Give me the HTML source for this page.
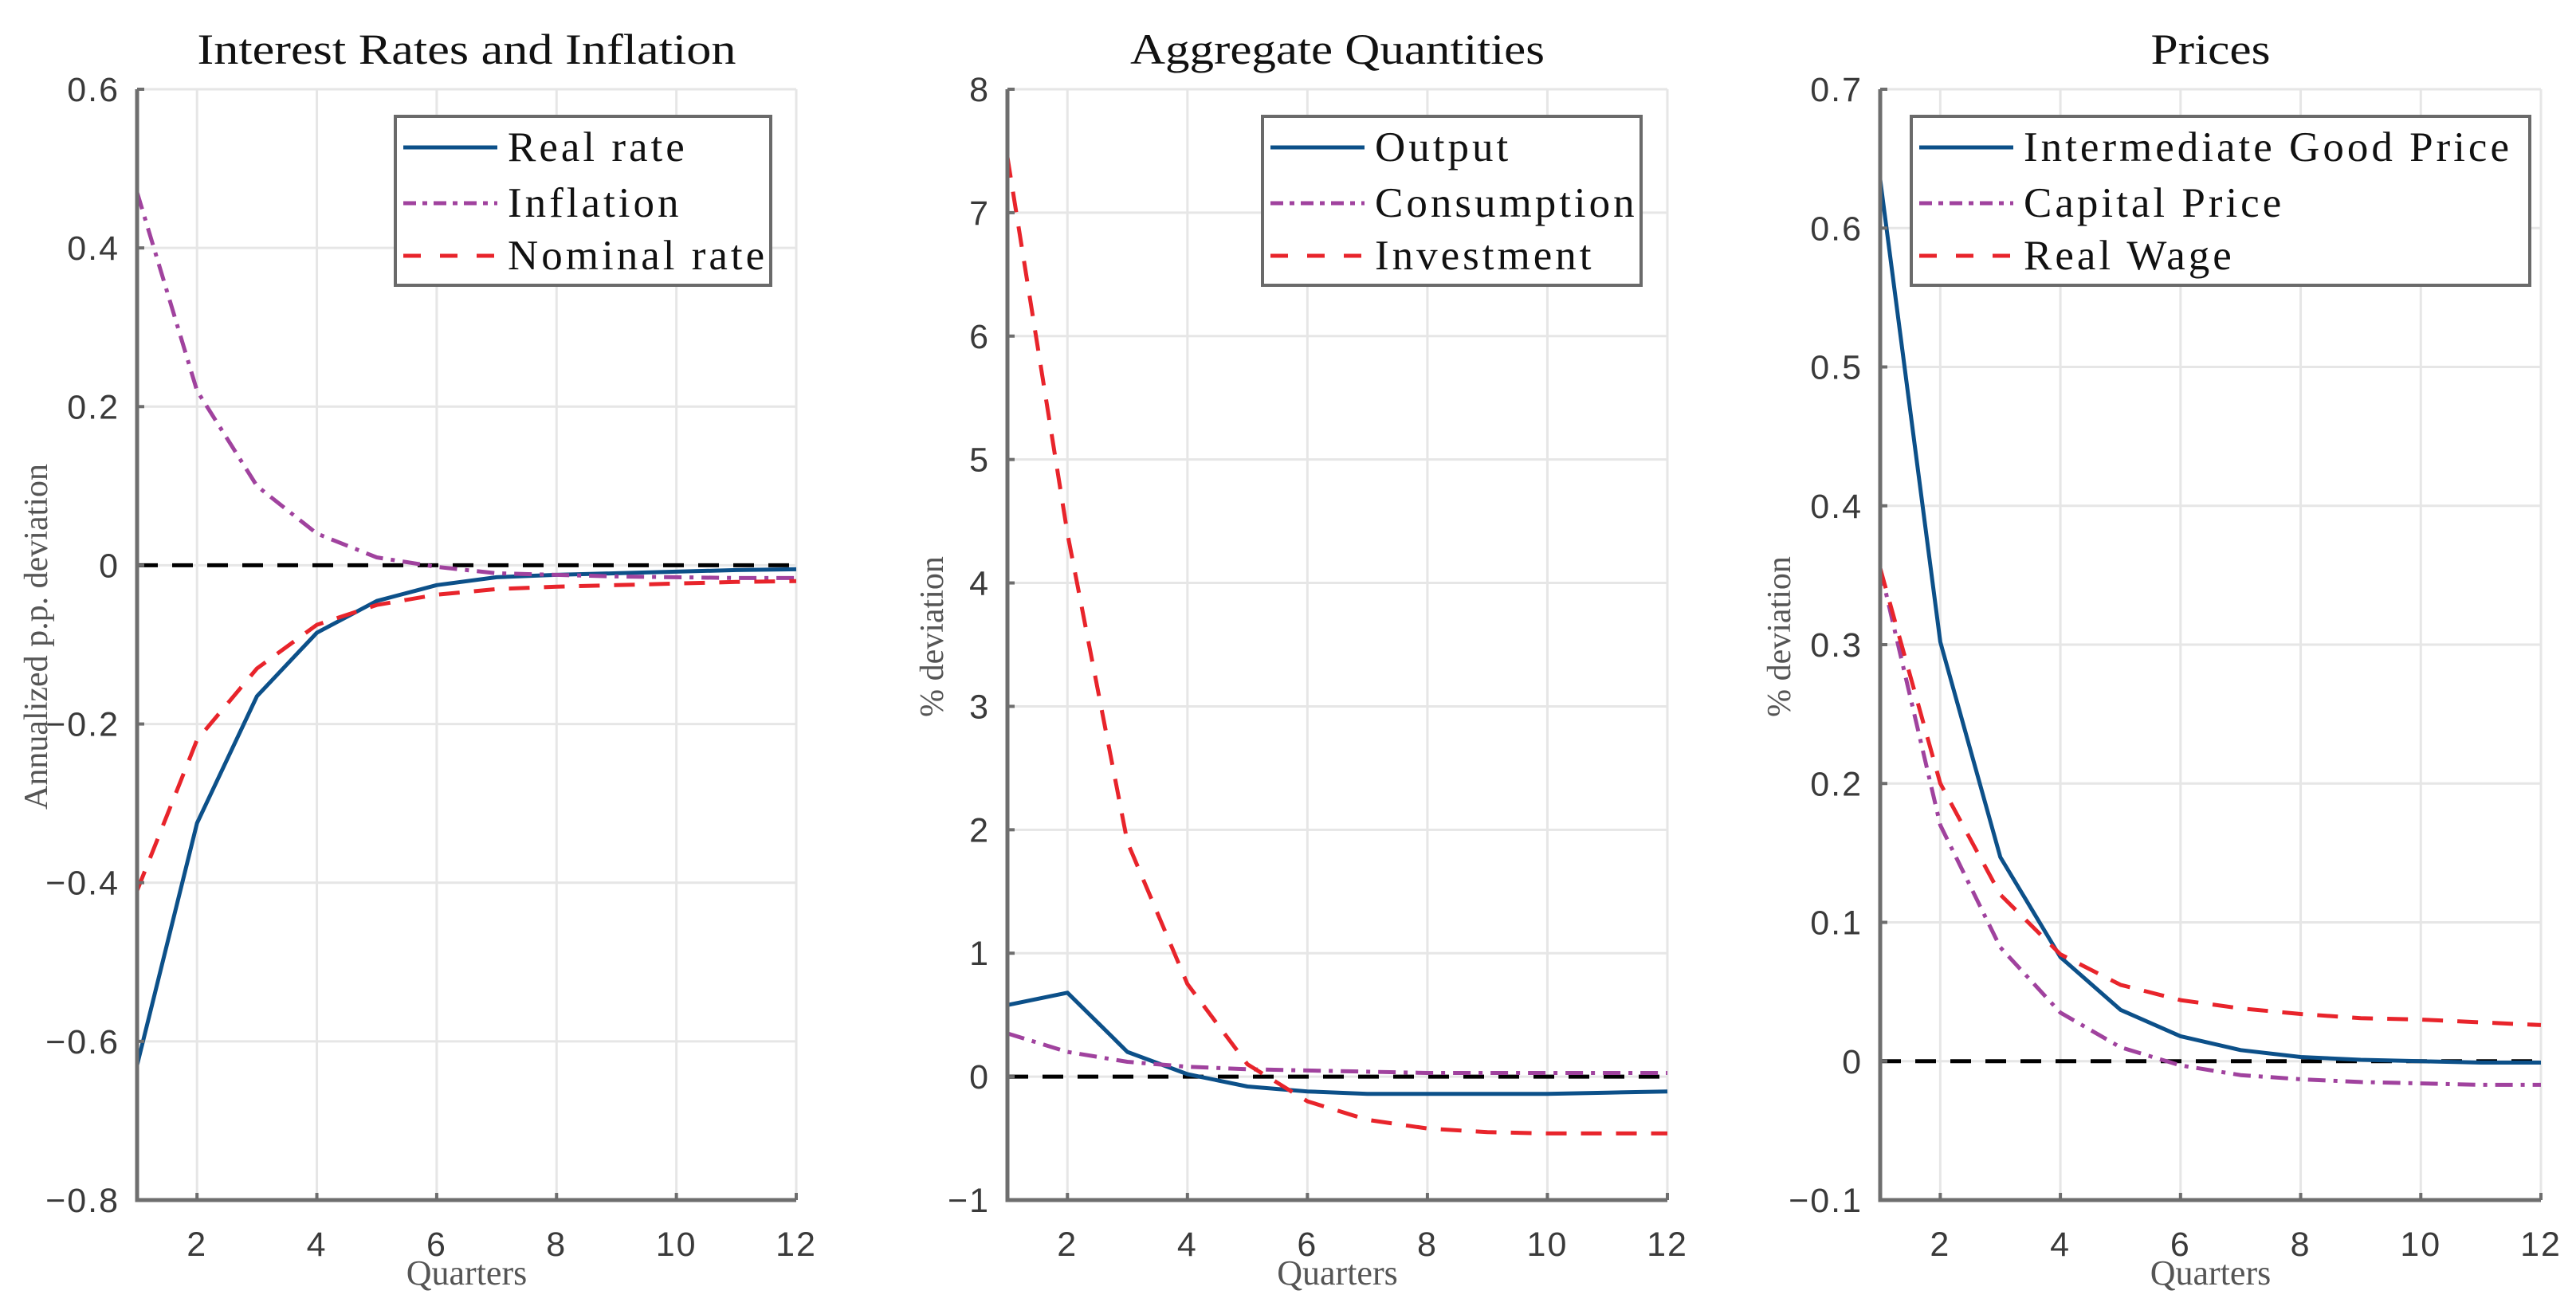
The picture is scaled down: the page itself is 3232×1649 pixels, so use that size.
<!DOCTYPE html>
<html><head><meta charset="utf-8"><style>
html,body{margin:0;padding:0;background:#fff;}
svg{display:block;}
</style></head><body>
<svg id="chart" width="3232" height="1649" viewBox="0 0 3232 1649" xmlns="http://www.w3.org/2000/svg"></svg>
<script>
const quarters = [1,2,3,4,5,6,7,8,9,10,11,12];
const xTicks = [2,4,6,8,10,12];

const realRate = [-0.63,-0.325,-0.165,-0.085,-0.045,-0.025,-0.015,-0.012,-0.01,-0.008,-0.006,-0.005];
const inflation = [0.47,0.22,0.1,0.04,0.01,-0.002,-0.01,-0.012,-0.014,-0.015,-0.016,-0.016];
const nominalRate = [-0.41,-0.22,-0.13,-0.075,-0.05,-0.037,-0.03,-0.027,-0.025,-0.023,-0.021,-0.02];
const p1Ticks = [-0.8,-0.6,-0.4,-0.2,0,0.2,0.4,0.6];
const p1TickLabels = ["\u22120.8","\u22120.6","\u22120.4","\u22120.2","0","0.2","0.4","0.6"];

const output = [0.58,0.68,0.2,0.02,-0.08,-0.12,-0.14,-0.14,-0.14,-0.14,-0.13,-0.12];
const consumption = [0.35,0.2,0.12,0.08,0.06,0.05,0.04,0.03,0.03,0.03,0.03,0.03];
const investment = [7.45,4.4,1.9,0.75,0.1,-0.2,-0.35,-0.42,-0.45,-0.46,-0.46,-0.46];
const p2Ticks = [-1,0,1,2,3,4,5,6,7,8];
const p2TickLabels = ["\u22121","0","1","2","3","4","5","6","7","8"];

const goodPrice = [0.635,0.302,0.147,0.075,0.037,0.018,0.008,0.003,0.001,0,-0.001,-0.001];
const capitalPrice = [0.355,0.17,0.082,0.035,0.01,-0.003,-0.01,-0.013,-0.015,-0.016,-0.017,-0.017];
const realWage = [0.355,0.2,0.12,0.077,0.055,0.044,0.038,0.034,0.031,0.03,0.028,0.026];
const p3Ticks = [-0.1,0,0.1,0.2,0.3,0.4,0.5,0.6,0.7];
const p3TickLabels = ["\u22120.1","0","0.1","0.2","0.3","0.4","0.5","0.6","0.7"];

const NS = "http://www.w3.org/2000/svg";
const svg = document.getElementById('chart');
function mk(tag, attrs, parent){
  const e = document.createElementNS(NS, tag);
  for (const k in attrs) e.setAttribute(k, attrs[k]);
  (parent||svg).appendChild(e);
  return e;
}
const BLUE="#0c5089", PURPLE="#a0429e", RED="#e8242b";
const STY = {
  solid:{stroke:BLUE,dash:null},
  dashdot:{stroke:PURPLE,dash:"22 10 5 10"},
  dashed:{stroke:RED,dash:"26 18"}
};
const TOP=112, BOT=1506;
const panels = [
 {name:"interest-rates-panel", L:172, R:999, ymin:-0.8, ymax:0.6, ticks:p1Ticks, labels:p1TickLabels,
  title:"Interest Rates and Inflation", titleLen:676, ylabel:"Annualized p.p. deviation", ylx:45,
  legend:{x:496,y:146,w:471,h:212},
  series:[{n:"Real rate",d:realRate,s:"solid",id:"real-rate"},{n:"Inflation",d:inflation,s:"dashdot",id:"inflation"},{n:"Nominal rate",d:nominalRate,s:"dashed",id:"nominal-rate"}]},
 {name:"aggregate-quantities-panel", L:1264, R:2092, ymin:-1, ymax:8, ticks:p2Ticks, labels:p2TickLabels,
  title:"Aggregate Quantities", titleLen:520, ylabel:"% deviation", ylx:1169,
  legend:{x:1584,y:146,w:475,h:212},
  series:[{n:"Output",d:output,s:"solid",id:"output"},{n:"Consumption",d:consumption,s:"dashdot",id:"consumption"},{n:"Investment",d:investment,s:"dashed",id:"investment"}]},
 {name:"prices-panel", L:2359, R:3188, ymin:-0.1, ymax:0.7, ticks:p3Ticks, labels:p3TickLabels,
  title:"Prices", titleLen:150, ylabel:"% deviation", ylx:2232,
  legend:{x:2398,y:146,w:776,h:212},
  series:[{n:"Intermediate Good Price",d:goodPrice,s:"solid",id:"intermediate-good-price"},{n:"Capital Price",d:capitalPrice,s:"dashdot",id:"capital-price"},{n:"Real Wage",d:realWage,s:"dashed",id:"real-wage"}]}
];

panels.forEach(p=>{
  const g = mk('g',{});
  
  
  const xs = q => p.L + (q-1)/(11)*(p.R-p.L);
  const ys = v => BOT - (v-p.ymin)/(p.ymax-p.ymin)*(BOT-TOP);
  xTicks.forEach(t=>{ const l=mk('line',{x1:xs(t),x2:xs(t),y1:TOP,y2:BOT,stroke:"#e6e6e6","stroke-width":3},g);
      });
  p.ticks.forEach(t=>{ const l=mk('line',{x1:p.L,x2:p.R,y1:ys(t),y2:ys(t),stroke:"#e6e6e6","stroke-width":3},g);
      });
  const z = mk('line',{x1:p.L,x2:p.R,y1:ys(0),y2:ys(0),stroke:"#000","stroke-width":5,"stroke-dasharray":"26 18"},g);
   
  p.series.forEach(s=>{
    const pts = quarters.map((q,i)=>xs(q).toFixed(1)+","+ys(s.d[i]).toFixed(1)).join(" ");
    const a = {points:pts,fill:"none",stroke:STY[s.s].stroke,"stroke-width":5,"stroke-linejoin":"round"};
    if (STY[s.s].dash) a["stroke-dasharray"]=STY[s.s].dash;
    const pl = mk('polyline',a,g);
     
  });
  const ax = mk('path',{d:`M${p.L},${TOP} L${p.L},${BOT} L${p.R},${BOT}`,fill:"none",stroke:"#6e6e6e","stroke-width":5},g);
   
  xTicks.forEach(t=>{ mk('line',{x1:xs(t),x2:xs(t),y1:BOT,y2:BOT-9,stroke:"#6e6e6e","stroke-width":4},g);
    const tx = mk('text',{x:xs(t),y:BOT+70,"text-anchor":"middle","font-family":"Liberation Sans, sans-serif","font-size":43,fill:"#3a3a3a","letter-spacing":2},g);
    tx.textContent = t;   });
  p.ticks.forEach((t,i)=>{ mk('line',{x1:p.L,x2:p.L+9,y1:ys(t),y2:ys(t),stroke:"#6e6e6e","stroke-width":4},g);
    const tx = mk('text',{x:p.L-22,y:ys(t)+15,"text-anchor":"end","font-family":"Liberation Sans, sans-serif","font-size":43,fill:"#3a3a3a","letter-spacing":2},g);
    tx.textContent = p.labels[i];   });
  const ti = mk('text',{x:(p.L+p.R)/2,y:80,"text-anchor":"middle","font-family":"Liberation Serif, serif","font-size":54,fill:"#111",textLength:p.titleLen,lengthAdjust:"spacingAndGlyphs"},g);
  ti.textContent = p.title;  
  const xl = mk('text',{x:(p.L+p.R)/2,y:1612,"text-anchor":"middle","font-family":"Liberation Serif, serif","font-size":44,fill:"#555"},g);
  xl.textContent = "Quarters";  
  const yl = mk('text',{x:0,y:0,"text-anchor":"middle","font-family":"Liberation Serif, serif","font-size":42,fill:"#555",transform:`translate(${p.ylx+14},${(TOP+BOT)/2-10}) rotate(-90)`},g);
  yl.textContent = p.ylabel;  
  const lg = mk('g',{},g);
   
  mk('rect',{x:p.legend.x,y:p.legend.y,width:p.legend.w,height:p.legend.h,fill:"#fff",stroke:"#6a6a6a","stroke-width":4},lg);
  const rows=[39,109,175];
  p.series.forEach((s,i)=>{
    const y = p.legend.y+rows[i];
    const la = {x1:p.legend.x+10,x2:p.legend.x+128,y1:y,y2:y,stroke:STY[s.s].stroke,"stroke-width":5};
    if (STY[s.s].dash) la["stroke-dasharray"] = s.s==="dashed"?"22 24":"16 8 6 8";
    const sw = mk('line',la,lg);
     
    const t = mk('text',{x:p.legend.x+141,y:y+17,"font-family":"Liberation Serif, serif","font-size":53,fill:"#111","letter-spacing":4},lg);
    t.textContent = s.n;  
  });
});
</script>
</body></html>
